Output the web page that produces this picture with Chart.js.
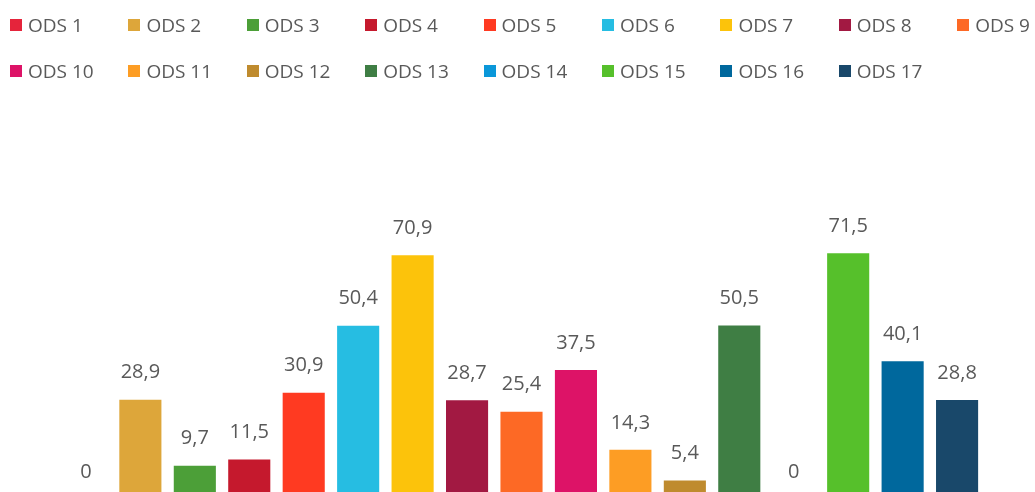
<!DOCTYPE html>
<html>
<head>
<meta charset="utf-8">
<script src="https://cdn.jsdelivr.net/npm/chart.js@4.4.1/dist/chart.umd.min.js"></script>
<style>
  html, body { margin: 0; padding: 0; background: #fff; }
  #wrap { position: relative; width: 1035px; height: 492px; overflow: hidden; }
  #chartBox { position: absolute; left: 0; top: 0; width: 1035px; height: 498px; }
  #legend { position: absolute; left: 0; top: 0; width: 1035px; height: 100px; }
  .item { position: absolute; white-space: nowrap; font-family: "Open Sans", sans-serif; font-size: 19px; color: #595959; line-height: 24px; }
  .item span.box { position: absolute; left: 0; top: 6px; width: 12px; height: 12px; }
  .item span.txt { position: absolute; left: 18px; top: 0; }
</style>
</head>
<body>
<div id="wrap">
  <div id="chartBox"><canvas id="c"></canvas></div>
  <div id="legend"></div>
</div>
<script>
// -------- Datos --------
const labels = ["ODS 1", "ODS 2", "ODS 3", "ODS 4", "ODS 5", "ODS 6", "ODS 7", "ODS 8", "ODS 9",
                "ODS 10", "ODS 11", "ODS 12", "ODS 13", "ODS 14", "ODS 15", "ODS 16", "ODS 17"];
const values = [0, 28.9, 9.7, 11.5, 30.9, 50.4, 70.9, 28.7, 25.4, 37.5, 14.3, 5.4, 50.5, 0, 71.5, 40.1, 28.8];
const colors = ["#E5243B", "#DDA63A", "#4C9F38", "#C5192D", "#FF3A21", "#26BDE2", "#FCC30B", "#A21942", "#FD6925",
                "#DD1367", "#FD9D24", "#BF8B2E", "#3F7E44", "#0A97D9", "#56C02B", "#00689D", "#19486A"];

// -------- Leyenda --------
const legendEl = document.getElementById("legend");
labels.forEach((lab, i) => {
  const row = i < 9 ? 0 : 1;
  const col = i < 9 ? i : i - 9;
  const el = document.createElement("div");
  el.className = "item";
  el.style.left = (10 + col * 118.4) + "px";
  el.style.top = (13 + row * 46) + "px";
  el.innerHTML = `<span class="box" style="background:${colors[i]}"></span><span class="txt">${lab}</span>`;
  legendEl.appendChild(el);
});

// -------- Etiquetas de valores --------
const valueLabels = {
  id: "valueLabels",
  afterDatasetsDraw(chart) {
    const ctx = chart.ctx;
    const meta = chart.getDatasetMeta(0);
    ctx.save();
    ctx.font = "20px 'Open Sans', sans-serif";
    ctx.fillStyle = "#595959";
    ctx.textAlign = "center";
    ctx.textBaseline = "middle";
    meta.data.forEach((bar, i) => {
      const txt = String(values[i]).replace(".", ",");
      ctx.fillText(txt, bar.x, bar.y - 26);
    });
    ctx.restore();
  }
};

new Chart(document.getElementById("c"), {
  type: "bar",
  data: {
    labels: labels,
    datasets: [{
      data: values,
      backgroundColor: colors,
      borderColor: "rgba(255,255,255,0.6)",
      borderWidth: 1,
      categoryPercentage: 1,
      barPercentage: 0.81
    }]
  },
  options: {
    responsive: true,
    maintainAspectRatio: false,
    animation: false,
    layout: { padding: { left: 58.7, right: 50.7, top: 223, bottom: 0 } },
    plugins: { legend: { display: false }, tooltip: { enabled: false } },
    scales: {
      x: { display: false },
      y: { display: false, min: 0, max: 80 }
    }
  },
  plugins: [valueLabels]
});
</script>
</body>
</html>
